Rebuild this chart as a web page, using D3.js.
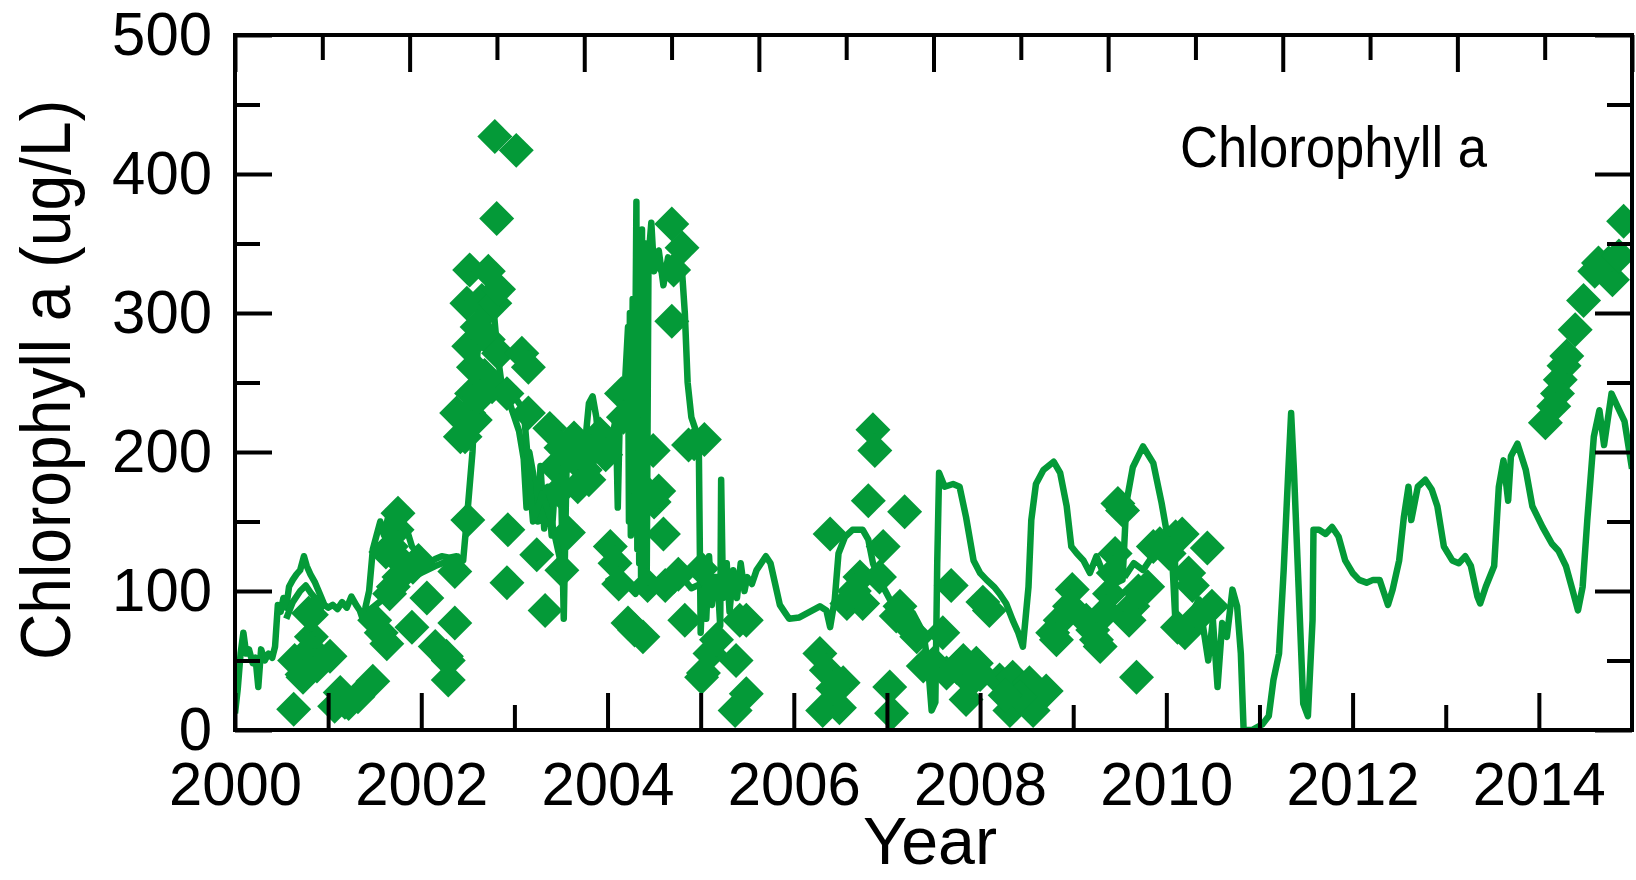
<!DOCTYPE html>
<html>
<head>
<meta charset="utf-8">
<script src="https://d3js.org/d3.v7.min.js"></script>
<style>
  body { margin: 0; background: #fff; }
  svg { display: block; font-family: "Liberation Sans", Arial, Helvetica, sans-serif; }
</style>
</head>
<body>
<svg id="chart" width="1636" height="880"></svg>
<script>
// ---- data (decimal year, ug/L) ----
const lineYears = [
  2000.00,2000.03,2000.06,2000.09,2000.12,2000.15,2000.19,2000.22,2000.25,2000.28,2000.32,2000.36,2000.40,2000.43,2000.46,2000.49,
  2000.52,2000.55,2000.58,2000.62,2000.66,2000.70,2000.74,2000.77,2000.81,2000.86,2000.91,2000.96,2001.00,2001.05,2001.10,2001.15,
  2001.20,2001.25,2001.30,2001.34,2001.37,2001.40,2001.44,2001.48,2001.52,2001.56,2001.60,2001.64,2001.70,2001.75,2001.80,2001.85,
  2001.90,2001.95,2002.00,2002.08,2002.15,2002.22,2002.30,2002.38,2002.45,
  2002.50,2002.55,2002.58,2002.62,2002.66,2002.70,2002.74,2002.78,2002.82,2002.86,2002.90,2002.95,2003.00,2003.05,2003.10,2003.13,
  2003.16,2003.20,2003.25,2003.28,2003.32,2003.36,2003.40,2003.45,2003.50,2003.53,2003.56,2003.60,2003.65,2003.70,2003.75,2003.80,
  2003.84,2003.88,2003.92,2003.96,2004.00,2004.05,2004.09,2004.11,2004.13,
  2004.18,2004.22,2004.23,2004.24,2004.25,2004.27,2004.28,2004.30,2004.31,2004.32,2004.33,2004.34,2004.35,2004.36,2004.37,2004.38,
  2004.39,2004.40,2004.41,2004.42,2004.44,2004.47,
  2004.50,2004.55,2004.60,2004.65,2004.70,2004.75,2004.80,2004.83,2004.86,2004.90,
  2004.95,2004.98,2005.00,2005.03,2005.06,2005.09,2005.12,2005.15,2005.18,2005.21,2005.22,2005.24,2005.28,2005.31,2005.35,2005.39,
  2005.43,2005.47,2005.50,2005.55,2005.60,2005.65,2005.70,2005.75,2005.80,2005.85,2005.90,2005.95,
  2006.06,2006.17,2006.28,2006.35,2006.39,2006.44,2006.48,2006.55,2006.63,2006.74,2006.80,2006.85,2006.92,2007.03,2007.14,2007.28,
  2007.39,2007.44,2007.48,2007.52,2007.54,2007.56,2007.62,2007.71,2007.78,2007.85,2007.93,2008.00,2008.07,2008.15,2008.21,2008.28,
  2008.35,2008.41,2008.46,2008.52,2008.55,2008.60,2008.68,2008.79,2008.86,2008.93,2008.98,2009.04,2009.11,2009.18,2009.25,2009.34,
  2009.43,2009.53,2009.57,2009.64,2009.75,2009.86,2009.95,2010.00,2010.05,2010.09,2010.10,2010.20,2010.35,2010.45,2010.50,2010.55,
  2010.60,2010.65,2010.71,2010.76,2010.80,2010.83,2010.92,2011.03,2011.10,2011.15,2011.21,2011.26,2011.31,2011.34,2011.37,2011.42,
  2011.47,2011.52,2011.57,2011.58,2011.64,2011.71,2011.78,2011.85,2011.92,2012.00,2012.07,2012.15,2012.22,2012.29,2012.34,2012.38,
  2012.43,2012.50,2012.55,2012.60,2012.63,2012.70,2012.78,2012.85,2012.91,2012.98,2013.07,2013.14,2013.21,2013.27,2013.34,2013.37,
  2013.43,2013.52,2013.57,2013.62,2013.67,2013.70,2013.77,2013.86,2013.93,2014.04,2014.14,2014.21,2014.29,2014.36,2014.42,2014.47,
  2014.52,2014.59,2014.65,2014.70,2014.78,2014.85,2014.92,2015.00
];
const lineValues = [
  12,30,55,70,55,58,48,52,31,58,50,55,52,60,90,85,
  95,88,103,108,112,115,125,118,112,106,98,90,88,90,87,92,
  88,96,90,86,80,88,100,130,140,150,140,152,158,160,150,143,
  132,128,122,120,123,125,124,125,122,
  160,200,245,290,300,280,310,300,270,250,245,235,225,215,195,160,
  200,185,150,190,145,175,140,190,180,80,190,195,190,205,200,235,
  240,225,195,190,195,210,225,160,220,
  240,290,150,300,140,310,160,290,380,130,350,120,340,110,360,115,
  330,105,350,100,340,365,
  330,345,320,340,330,350,330,300,250,225,
  215,205,70,120,80,125,90,110,110,75,180,95,120,85,115,95,
  120,100,110,105,115,120,125,120,105,90,85,80,
  81,85,89,86,74,94,127,139,144,144,137,120,108,94,89,84,
  70,48,14,20,120,185,175,177,175,153,122,113,108,103,98,91,
  79,70,60,103,151,177,187,193,185,161,132,127,122,113,125,110,
  105,108,163,189,204,192,163,144,135,140,79,74,94,50,79,31,
  77,67,101,89,55,0,0,4,10,36,55,115,187,228,187,103,
  19,10,79,144,144,141,146,139,122,113,108,106,108,108,98,90,
  101,122,153,175,151,175,180,173,161,132,122,120,125,118,96,91,
  103,118,175,194,165,197,206,187,161,146,134,129,118,101,86,103,
  151,211,230,205,242,232,222,188
];

// second, overlapping trace (null = gap)
const line2Years = [
  2000.55,2000.62,2000.70,2000.76,2000.82,2000.90,2000.97,2000.98,
  2001.42,2001.55,2001.70,2001.85,2002.00,2002.15,2002.30,2002.42,2002.43,
  2003.00,2003.10,2003.20,2003.30,2003.40,2003.50,2003.51,
  2004.00,2004.10,2004.20,2004.30,2004.40,2004.50,2004.60,2004.70,2004.80,2004.90,2005.00,2005.01,
  2009.55,2009.65,2009.75,2009.85,2009.95,2010.05,2010.10
];
const line2Values = [
  80,92,100,104,98,92,88,null,
  85,92,100,108,113,118,122,125,null,
  240,230,150,170,150,120,null,
  110,100,105,98,108,100,107,100,110,102,105,null,
  110,120,115,125,135,140,75
];

const dotYears = [
  2000.63,2000.72,2000.64,2000.73,2000.82,2000.81,2000.86,2000.88,2000.84,2000.79,2000.82,2001.02,2001.07,2001.13,2001.18,2001.22,2001.32,2001.48,
  2001.50,2001.57,2001.63,2001.66,2001.68,2001.74,2001.75,2001.70,2001.76,2001.91,2001.90,2002.06,2002.15,2002.27,2002.29,2002.36,2002.29,2002.36,2002.47,2002.50,2001.62,2001.80,2001.97,
  2002.38,2002.51,2002.58,2002.54,2002.76,2002.56,2002.51,2002.72,2002.83,2002.49,2002.65,2002.79,2002.83,2002.52,2002.72,2002.81,2002.79,2003.02,2003.08,2003.15,2003.15,2002.92,2002.42,2002.60,2002.68,2002.63,
  2002.93,2002.92,2003.24,2003.33,2003.51,2003.38,2003.44,2003.48,2003.58,2003.64,2003.55,2003.50,
  2003.70,2003.76,2003.80,2003.87,2003.92,2003.98,2003.68,2003.82,
  2004.03,2004.08,2004.12,2004.22,2004.29,2004.38,2004.44,2004.49,2004.60,2004.83,2004.87,2005.01,2004.15,2004.17,2004.69,2004.80,2004.71,2004.69,2004.50,2004.55,2004.43,2004.62,2004.76,2004.93,
  2005.04,2005.03,2005.10,2005.17,2005.38,2005.49,2005.37,2005.42,2005.49,2005.01,
  2006.39,2006.85,2006.87,2006.80,2007.19,2006.96,2006.71,2006.92,2006.74,2006.57,2007.14,2007.17,2007.32,2007.10,2007.03,2007.05,2006.28,2006.35,2006.53,2006.31,2006.49,2006.42,2006.65,
  2007.69,2007.60,2007.39,2007.50,2007.64,2007.82,2007.96,2007.85,2008.03,2008.10,2008.21,2008.35,2008.32,2008.53,2008.57,2008.71,2008.43,2007.75,2007.90,2008.00,2008.27,
  2008.78,2008.86,2008.99,2008.82,2008.96,2009.14,2009.21,2009.29,2009.45,2009.48,2009.53,2009.64,2009.68,2009.60,2009.80,2009.86,2009.43,2009.39,2009.25,2009.35,2009.70,
  2010.10,2010.17,2010.44,2010.24,2010.20,2010.49,2010.35,2009.93,2010.03,2010.28,2010.12,
  2014.07,2014.16,2014.20,2014.23,2014.27,2014.30,2014.39,2014.48,2014.64,2014.75,2014.79,2014.86,2014.91,2014.60
];
const dotValues = [
  15,40,50,38,67,58,55,46,46,84,83,53,17,27,20,19,24,35,
  79,70,62,98,132,144,156,103,110,117,74,95,60,53,50,77,36,114,211,151,128,120,122,
  228,228,223,242,247,261,276,281,271,307,309,307,317,331,330,368,427,417,271,261,228,242,211,290,255,240,
  144,106,126,86,115,217,189,172,142,210,195,203,
  195,187,180,205,213,198,175,200,
  132,120,105,77,72,67,170,201,141,79,205,38,242,225,364,347,331,294,164,172,104,104,112,206,
  209,41,55,65,50,26,14,79,79,116,
  141,216,201,165,157,132,110,110,91,91,89,79,67,82,31,12,55,43,34,14,16,30,100,
  104,70,46,48,41,50,48,22,92,86,36,38,14,34,14,28,24,45,35,40,25,
  70,79,101,65,89,79,72,60,127,163,158,89,38,79,103,132,113,98,65,85,100,
  139,141,131,113,70,89,82,134,127,104,74,
  221,233,242,252,262,269,288,309,336,336,324,341,366,330
];

const yMajor = [0, 100, 200, 300, 400, 500];
const yMinor = [50, 150, 250, 350, 450];
const xLabelYears = [2000, 2002, 2004, 2006, 2008, 2010, 2012, 2014];
const xLongOdd = [2001, 2005, 2007];
const xShortOdd = [2003, 2009, 2011, 2013];

// ---- layout ----
const GREEN = "#049a38";
const LEFT = 235, RIGHT = 1632, TOP = 35, BOTTOM = 730;
const LONG = 37, SHORT = 25;

const svg = d3.select("#chart");

const x = d3.scaleLinear().domain([2000, 2015]).range([LEFT, RIGHT]);
const y = d3.scaleLinear().domain([0, 500]).range([BOTTOM, TOP]);
const xTop = d3.scaleLinear().domain([0, 16]).range([LEFT, RIGHT]);

svg.append("clipPath").attr("id", "plot")
  .append("rect")
  .attr("x", LEFT).attr("y", TOP)
  .attr("width", RIGHT - LEFT).attr("height", BOTTOM - TOP);

const plot = svg.append("g").attr("clip-path", "url(#plot)");

const line = d3.line()
  .defined(d => d[1] !== null)
  .x(d => x(d[0]))
  .y(d => y(d[1]));

plot.append("path")
  .datum(d3.zip(lineYears, lineValues))
  .attr("fill", "none")
  .attr("stroke", GREEN)
  .attr("stroke-width", 6.5)
  .attr("stroke-linejoin", "round")
  .attr("d", line);

plot.append("path")
  .datum(d3.zip(line2Years, line2Values))
  .attr("fill", "none")
  .attr("stroke", GREEN)
  .attr("stroke-width", 6.5)
  .attr("stroke-linejoin", "round")
  .attr("d", line);

const diamond = d3.symbol(d3.symbolSquare, 612);
plot.selectAll(".dot")
  .data(d3.zip(dotYears, dotValues))
  .enter().append("path")
  .attr("class", "dot")
  .attr("d", diamond)
  .attr("fill", GREEN)
  .attr("transform", d => "translate(" + x(d[0]) + "," + y(d[1]) + ") rotate(45)");

// ---- axes ----
function tidy(g) {
  g.select(".domain").remove();
  g.selectAll("line").attr("stroke", "#000").attr("stroke-width", 4);
  g.attr("font-family", null).attr("font-size", 62);
  g.selectAll("text").attr("fill", "#000");
}

svg.append("g")
  .attr("transform", "translate(0," + BOTTOM + ")")
  .call(d3.axisBottom(x).tickValues(xLabelYears).tickSize(-LONG).tickPadding(31).tickFormat(d3.format("d")))
  .call(tidy)
  .selectAll("text")
  .attr("textLength", 133).attr("lengthAdjust", "spacingAndGlyphs");

svg.append("g")
  .attr("transform", "translate(0," + BOTTOM + ")")
  .call(d3.axisBottom(x).tickValues(xLongOdd).tickSize(-LONG).tickFormat(""))
  .call(tidy);

svg.append("g")
  .attr("transform", "translate(0," + BOTTOM + ")")
  .call(d3.axisBottom(x).tickValues(xShortOdd).tickSize(-SHORT).tickFormat(""))
  .call(tidy);

svg.append("g")
  .attr("transform", "translate(" + LEFT + ",0)")
  .call(d3.axisLeft(y).tickValues(yMajor).tickSize(-LONG).tickPadding(23))
  .call(tidy)
  .selectAll("text")
  .attr("textLength", d => String(d).length * 33.3).attr("lengthAdjust", "spacingAndGlyphs");

svg.append("g")
  .attr("transform", "translate(" + LEFT + ",0)")
  .call(d3.axisLeft(y).tickValues(yMinor).tickSize(-SHORT).tickFormat(""))
  .call(tidy);

svg.append("g")
  .attr("transform", "translate(" + RIGHT + ",0)")
  .call(d3.axisRight(y).tickValues(yMajor).tickSize(-LONG).tickFormat(""))
  .call(tidy);

svg.append("g")
  .attr("transform", "translate(" + RIGHT + ",0)")
  .call(d3.axisRight(y).tickValues(yMinor).tickSize(-SHORT).tickFormat(""))
  .call(tidy);

svg.append("g")
  .attr("transform", "translate(0," + TOP + ")")
  .call(d3.axisTop(xTop).tickValues(d3.range(0, 17, 2)).tickSize(-LONG).tickFormat(""))
  .call(tidy);

svg.append("g")
  .attr("transform", "translate(0," + TOP + ")")
  .call(d3.axisTop(xTop).tickValues(d3.range(1, 17, 2)).tickSize(-SHORT).tickFormat(""))
  .call(tidy);

// frame
svg.append("rect")
  .attr("x", LEFT).attr("y", TOP)
  .attr("width", RIGHT - LEFT).attr("height", BOTTOM - TOP)
  .attr("fill", "none").attr("stroke", "#000").attr("stroke-width", 4);

// ---- titles ----
svg.append("text")
  .attr("x", 930).attr("y", 864)
  .attr("text-anchor", "middle")
  .attr("font-size", 66)
  .attr("textLength", 134).attr("lengthAdjust", "spacingAndGlyphs")
  .text("Year");

svg.append("text")
  .attr("transform", "translate(70,380) rotate(-90)")
  .attr("text-anchor", "middle")
  .attr("font-size", 70)
  .attr("textLength", 560).attr("lengthAdjust", "spacingAndGlyphs")
  .text("Chlorophyll a (ug/L)");

svg.append("text")
  .attr("x", 1180).attr("y", 167)
  .attr("font-size", 58)
  .attr("textLength", 307).attr("lengthAdjust", "spacingAndGlyphs")
  .text("Chlorophyll a");
</script>
</body>
</html>
